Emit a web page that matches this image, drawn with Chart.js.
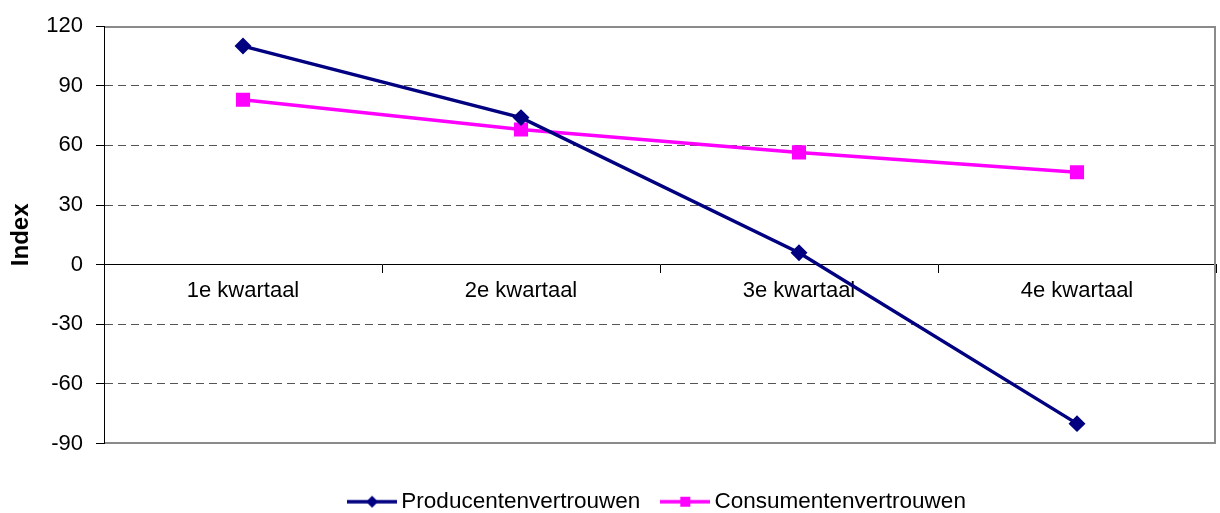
<!DOCTYPE html>
<html>
<head>
<meta charset="utf-8">
<script src="https://cdn.jsdelivr.net/npm/chart.js@4/dist/chart.umd.min.js"></script>
<style>
  html, body { margin: 0; padding: 0; background: #fff; }
</style>
</head>
<body>
<canvas id="chart" width="1220" height="513"></canvas>
<script>
const categories = ["1e kwartaal", "2e kwartaal", "3e kwartaal", "4e kwartaal"];
const producentValues = [110, 74, 6, -80];
const consumentValues = [83, 68, 56.5, 46.5];
const seriesNames = ["Producentenvertrouwen", "Consumentenvertrouwen"];
const yMin = -90;
const yMax = 120;
const yStep = 30;

const FONT = "'Liberation Sans', Arial, sans-serif";
const NAVY = "#000080";
const MAGENTA = "#ff00ff";

// little line+marker swatch for the legend
function swatch(color, kind) {
  const c = document.createElement("canvas");
  c.width = 50;
  c.height = 16;
  const g = c.getContext("2d");
  g.strokeStyle = color;
  g.lineWidth = 3.5;
  g.beginPath();
  g.moveTo(0, 8);
  g.lineTo(50, 8);
  g.stroke();
  g.fillStyle = color;
  g.beginPath();
  if (kind === "diamond") {
    g.moveTo(25, 2);
    g.lineTo(31, 8);
    g.lineTo(25, 14);
    g.lineTo(19, 8);
    g.closePath();
  } else {
    g.rect(20, 3, 10, 10);
  }
  g.fill();
  return c;
}
const legendImages = [swatch(NAVY, "diamond"), swatch(MAGENTA, "square")];

const plotFrame = {
  id: "plotFrame",
  beforeDatasetsDraw(chart) {
    const { ctx, chartArea: a } = chart;
    ctx.save();
    ctx.strokeStyle = "#8a8a8a";
    ctx.lineWidth = 2;
    ctx.beginPath();
    ctx.moveTo(Math.round(a.left) + 1, Math.round(a.top) + 1);
    ctx.lineTo(Math.round(a.right) - 1, Math.round(a.top) + 1);
    ctx.lineTo(Math.round(a.right) - 1, Math.round(a.bottom) - 1);
    ctx.lineTo(Math.round(a.left) + 1, Math.round(a.bottom) - 1);
    ctx.stroke();
    ctx.restore();
  },
};

const ctx = document.getElementById("chart").getContext("2d");
new Chart(ctx, {
  type: "line",
  data: {
    labels: categories,
    datasets: [
      {
        label: seriesNames[0],
        data: producentValues,
        borderColor: NAVY,
        backgroundColor: NAVY,
        borderWidth: 3.5,
        pointStyle: "rectRot",
        pointRadius: 6,
        pointHoverRadius: 6,
        tension: 0,
      },
      {
        label: seriesNames[1],
        data: consumentValues,
        borderColor: MAGENTA,
        backgroundColor: MAGENTA,
        borderWidth: 3.5,
        pointStyle: "rect",
        pointRadius: 7.5,
        pointHoverRadius: 7.5,
        tension: 0,
      },
    ],
  },
  options: {
    responsive: false,
    animation: false,
    layout: { autoPadding: false, padding: { top: 25, right: 4, left: 0, bottom: -10 } },
    scales: {
      x: {
        position: { y: 0 },
        offset: true,
        afterFit: (scale) => {
          scale.height = 0;
          scale.paddingLeft = 0;
          scale.paddingRight = 0;
        },
        grid: {
          offset: true,
          drawOnChartArea: false,
          drawTicks: true,
          tickLength: 8,
          tickColor: "#000",
        },
        border: { color: "#000", width: 1 },
        ticks: {
          color: "#000",
          padding: 5,
          font: { family: FONT, size: 22 },
          maxRotation: 0,
        },
      },
      y: {
        min: yMin,
        max: yMax,
        afterFit: (scale) => { scale.width = 104; },
        grid: {
          color: (c) => (c.tick && [yMin, yMax, 0].includes(c.tick.value) ? "rgba(0,0,0,0)" : "#555"),
          lineWidth: 1,
          tickLength: 8,
          tickColor: "#000",
        },
        border: { color: "#000", width: 1, dash: [8, 5] },
        ticks: {
          stepSize: yStep,
          color: "#000",
          padding: 13,
          font: { family: FONT, size: 22 },
        },
        title: {
          display: true,
          text: "Index",
          color: "#000",
          font: { family: FONT, size: 24, weight: "bold" },
          padding: { top: 7, bottom: 0 },
        },
      },
    },
    plugins: {
      tooltip: { enabled: false },
      legend: {
        position: "bottom",
        fullSize: false,
        title: { display: true, text: "", font: { size: 1 }, padding: { top: 18.8, bottom: 0 } },
        labels: {
          color: "#000",
          font: { family: FONT, size: 22.5 },
          usePointStyle: true,
          pointStyleWidth: 36,
          padding: 27,
          generateLabels(chart) {
            const items = Chart.defaults.plugins.legend.labels.generateLabels(chart);
            items.forEach((it, i) => { it.pointStyle = legendImages[i]; });
            return items;
          },
        },
      },
    },
  },
  plugins: [plotFrame],
});
</script>
</body>
</html>
